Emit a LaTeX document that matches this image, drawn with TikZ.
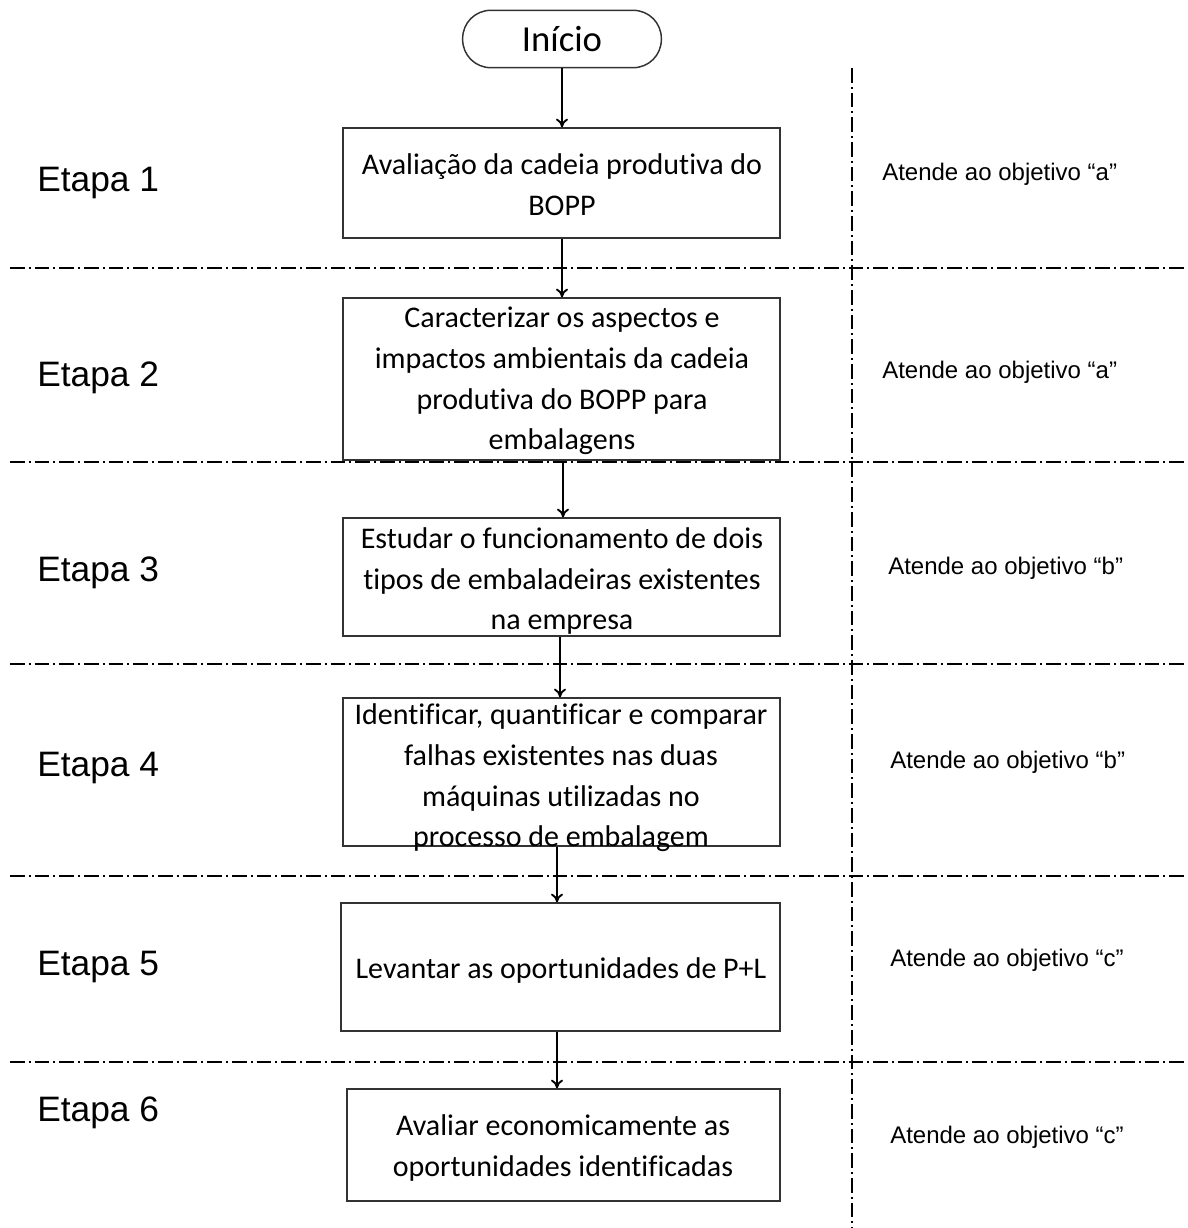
\documentclass[tikz,border=0pt]{standalone}
\usepackage{fontspec}
\setmainfont{Liberation Sans}
\newfontfamily\boxfont[Ligatures=NoCommon]{Carlito}
\usetikzlibrary{arrows.meta}
\begin{document}
\begin{tikzpicture}[x=0.75pt,y=-0.75pt,
  stepbox/.style={draw=black!80,line width=1.1pt,rectangle,inner sep=0pt},
  boxtext/.style={align=center,inner sep=0pt,font=\boxfont\fontsize{22.5}{30.5}\selectfont},
  stagelabel/.style={anchor=west,inner sep=0pt,font=\fontsize{26.5}{30}\selectfont},
  goallabel/.style={anchor=west,inner sep=0pt,font=\fontsize{18}{22}\selectfont},
  flow/.style={line width=1.4pt,-{To[length=6.5pt,width=9pt]}},
  divider/.style={line width=1.3pt,dash pattern=on 11pt off 3pt on 1.5pt off 3pt}]
\useasboundingbox (0,0) rectangle (1188,1228);

% start terminal
\node[draw=black!80,line width=1.1pt,rounded corners=21pt,minimum width=149pt,minimum height=43pt,inner sep=0pt,
      font=\boxfont\fontsize{27.5}{30}\selectfont] (start) at (562,39) {Início};

% process boxes
\node[stepbox,minimum width=327.75pt,minimum height=82.5pt] (b1) at (561.5,183) {};
\node[stepbox,minimum width=327.75pt,minimum height=121.5pt] (b2) at (561.5,379) {};
\node[stepbox,minimum width=327.75pt,minimum height=88.5pt] (b3) at (561.5,577) {};
\node[stepbox,minimum width=327.75pt,minimum height=111pt] (b4) at (561.5,772) {};
\node[stepbox,minimum width=329.25pt,minimum height=96pt] (b5) at (560.5,967) {};
\node[stepbox,minimum width=324.75pt,minimum height=84pt] (b6) at (563.5,1145) {};

% box texts
\node[boxtext] (t1) at (562,185) {Avaliação da cadeia produtiva do\\BOPP};
\node[boxtext] (t2) at (562,381) {Caracterizar os aspectos e\\impactos ambientais da cadeia\\produtiva do BOPP para\\embalagens};
\node[boxtext] (t3) at (562,581) {Estudar o funcionamento de dois\\tipos de embaladeiras existentes\\na empresa};
\node[boxtext] (t4) at (561,778) {Identificar, quantificar e comparar\\falhas existentes nas duas\\máquinas utilizadas no\\processo de embalagem};
\node[boxtext] (t5) at (561,970) {Levantar as oportunidades de P+L};
\node[boxtext] (t6) at (563,1148) {Avaliar economicamente as\\oportunidades identificadas};

% connectors
\draw[flow] (start.south) -- (b1.north -| start.south);
\draw[flow] (b1.south -| 562,0) -- (b2.north -| 562,0);
\draw[flow] (b2.south -| 563,0) -- (b3.north -| 563,0);
\draw[flow] (b3.south -| 560,0) -- (b4.north -| 560,0);
\draw[flow] (b4.south -| 557,0) -- (b5.north -| 557,0);
\draw[flow] (b5.south -| 557,0) -- (b6.north -| 557,0);

% stage dividers
\foreach \yy in {268,462,664,876,1062}
  \draw[divider] (10,\yy) -- (1188,\yy);
\draw[divider] (852,68) -- (852,1228);

% stage names
\node[stagelabel] (e1) at (37,183) {Etapa 1};
\node[stagelabel] (e2) at (37,378) {Etapa 2};
\node[stagelabel] (e3) at (37,573) {Etapa 3};
\node[stagelabel] (e4) at (37,768) {Etapa 4};
\node[stagelabel] (e5) at (37,967) {Etapa 5};
\node[stagelabel] (e6) at (37,1113) {Etapa 6};

% objectives
\node[goallabel] (g1) at (882,174) {Atende ao objetivo “a”};
\node[goallabel] (g2) at (882,372) {Atende ao objetivo “a”};
\node[goallabel] (g3) at (888,568) {Atende ao objetivo “b”};
\node[goallabel] (g4) at (890,762) {Atende ao objetivo “b”};
\node[goallabel] (g5) at (890,960) {Atende ao objetivo “c”};
\node[goallabel] (g6) at (890,1137) {Atende ao objetivo “c”};
\end{tikzpicture}
\end{document}
